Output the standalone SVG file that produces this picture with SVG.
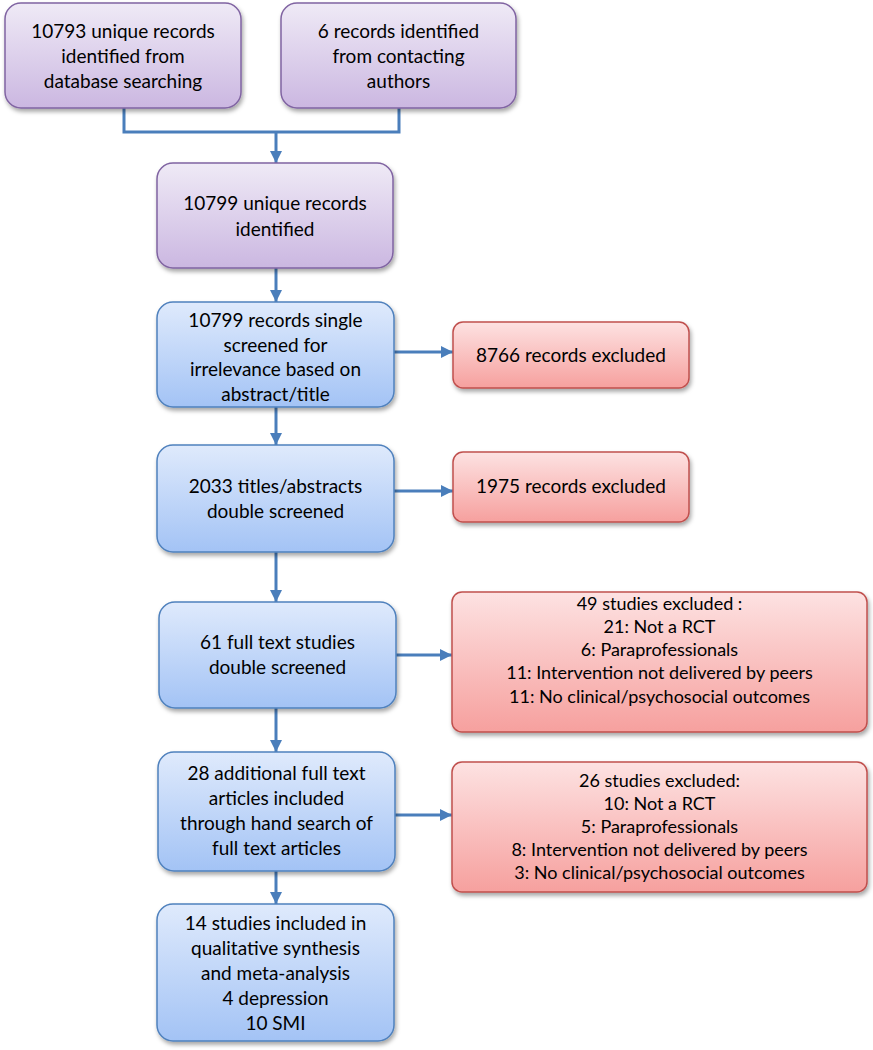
<svg xmlns="http://www.w3.org/2000/svg" width="873" height="1050" viewBox="0 0 873 1050">
<defs>
<linearGradient id="gPurple" x1="0" y1="0" x2="0" y2="1">
<stop offset="0" stop-color="#efeaf6"/>
<stop offset="1" stop-color="#cbb7e1"/>
</linearGradient>
<linearGradient id="gBlue" x1="0" y1="0" x2="0" y2="1">
<stop offset="0" stop-color="#dfeafc"/>
<stop offset="1" stop-color="#a3c3f5"/>
</linearGradient>
<linearGradient id="gRed" x1="0" y1="0" x2="0" y2="1">
<stop offset="0" stop-color="#fde2e2"/>
<stop offset="1" stop-color="#f6a09e"/>
</linearGradient>
<filter id="sh" x="-10%" y="-10%" width="130%" height="130%">
<feDropShadow dx="1.5" dy="3" stdDeviation="2" flood-color="#000" flood-opacity="0.35"/>
</filter>
<marker id="arr" viewBox="0 0 10 10" refX="10" refY="5" markerWidth="12" markerHeight="12" markerUnits="userSpaceOnUse" orient="auto">
<path d="M0,0 L10,5 L0,10 Z" fill="#4a7ebb"/>
</marker>
</defs>
<style>
.purple{fill:url(#gPurple);stroke:#8064a2;stroke-width:1.5;filter:url(#sh)}
.blue{fill:url(#gBlue);stroke:#4f81bd;stroke-width:1.5;filter:url(#sh)}
.red{fill:url(#gRed);stroke:#c0504d;stroke-width:1.5;filter:url(#sh)}
text{font-family:Lato,"Liberation Sans",sans-serif;fill:#000;text-anchor:middle}
.t{font-size:19px}
.s{font-size:18px}
.c{fill:none;stroke:#4a7ebb;stroke-width:3}
.a{fill:none;stroke:#4a7ebb;stroke-width:3;marker-end:url(#arr)}
</style>

<g id="connectors">
<polyline class="c" points="124,108 124,132 399,132 399,108"/>
<line class="a" x1="276" y1="132" x2="276" y2="163"/>
<line class="a" x1="276" y1="268" x2="276" y2="302"/>
<line class="a" x1="276" y1="407" x2="276" y2="445"/>
<line class="a" x1="276" y1="552" x2="276" y2="602"/>
<line class="a" x1="276" y1="708" x2="276" y2="752"/>
<line class="a" x1="276" y1="871" x2="276" y2="904"/>
<line class="a" x1="394" y1="352" x2="453" y2="352"/>
<line class="a" x1="394" y1="491" x2="453" y2="491"/>
<line class="a" x1="396" y1="655" x2="452" y2="655"/>
<line class="a" x1="395" y1="815" x2="452" y2="815"/>
</g>

<g id="n1">
<rect class="purple" x="5" y="3" width="236" height="105" rx="16"/>
<text class="t" x="123" y="38">10793 unique records</text>
<text class="t" x="123" y="63">identified from</text>
<text class="t" x="123" y="88">database searching</text>
</g>
<g id="n2">
<rect class="purple" x="281" y="3" width="235" height="105" rx="16"/>
<text class="t" x="398.5" y="38">6 records identified</text>
<text class="t" x="398.5" y="63">from contacting</text>
<text class="t" x="398.5" y="88">authors</text>
</g>
<g id="n3">
<rect class="purple" x="157" y="163" width="236" height="105" rx="16"/>
<text class="t" x="275" y="210">10799 unique records</text>
<text class="t" x="275" y="236">identified</text>
</g>
<g id="n4">
<rect class="blue" x="157" y="302" width="237" height="105" rx="16"/>
<text class="t" x="275.5" y="327">10799 records single</text>
<text class="t" x="275.5" y="352">screened for</text>
<text class="t" x="275.5" y="376">irrelevance based on</text>
<text class="t" x="275.5" y="401">abstract/title</text>
</g>
<g id="r1">
<rect class="red" x="453" y="322" width="236" height="66" rx="10"/>
<text class="t" x="571" y="362">8766 records excluded</text>
</g>
<g id="n5">
<rect class="blue" x="157" y="445" width="237" height="107" rx="16"/>
<text class="t" x="275.5" y="493">2033 titles/abstracts</text>
<text class="t" x="275.5" y="518">double screened</text>
</g>
<g id="r2">
<rect class="red" x="453" y="452" width="236" height="70" rx="10"/>
<text class="t" x="571" y="493">1975 records excluded</text>
</g>
<g id="n6">
<rect class="blue" x="159" y="602" width="237" height="106" rx="16"/>
<text class="t" x="277.5" y="649">61 full text studies</text>
<text class="t" x="277.5" y="674">double screened</text>
</g>
<g id="r3">
<rect class="red" x="452" y="592" width="415" height="140" rx="10"/>
<text class="s" x="659.5" y="610">49 studies excluded :</text>
<text class="s" x="659.5" y="633">21: Not a RCT</text>
<text class="s" x="659.5" y="656">6: Paraprofessionals</text>
<text class="s" x="659.5" y="679">11: Intervention not delivered by peers</text>
<text class="s" x="659.5" y="703">11: No clinical/psychosocial outcomes</text>
</g>
<g id="n7">
<rect class="blue" x="158" y="752" width="237" height="119" rx="16"/>
<text class="t" x="276.5" y="780">28 additional full text</text>
<text class="t" x="276.5" y="805">articles included</text>
<text class="t" x="276.5" y="830">through hand search of</text>
<text class="t" x="276.5" y="855">full text articles</text>
</g>
<g id="r4">
<rect class="red" x="452" y="762" width="415" height="130" rx="10"/>
<text class="s" x="659.5" y="787">26 studies excluded:</text>
<text class="s" x="659.5" y="810">10: Not a RCT</text>
<text class="s" x="659.5" y="833">5: Paraprofessionals</text>
<text class="s" x="659.5" y="856">8: Intervention not delivered by peers</text>
<text class="s" x="659.5" y="879">3: No clinical/psychosocial outcomes</text>
</g>
<g id="n8">
<rect class="blue" x="157" y="904" width="237" height="137" rx="16"/>
<text class="t" x="275.5" y="930">14 studies included in</text>
<text class="t" x="275.5" y="955">qualitative synthesis</text>
<text class="t" x="275.5" y="980">and meta-analysis</text>
<text class="t" x="275.5" y="1005">4 depression</text>
<text class="t" x="275.5" y="1030">10 SMI</text>
</g>
</svg>
